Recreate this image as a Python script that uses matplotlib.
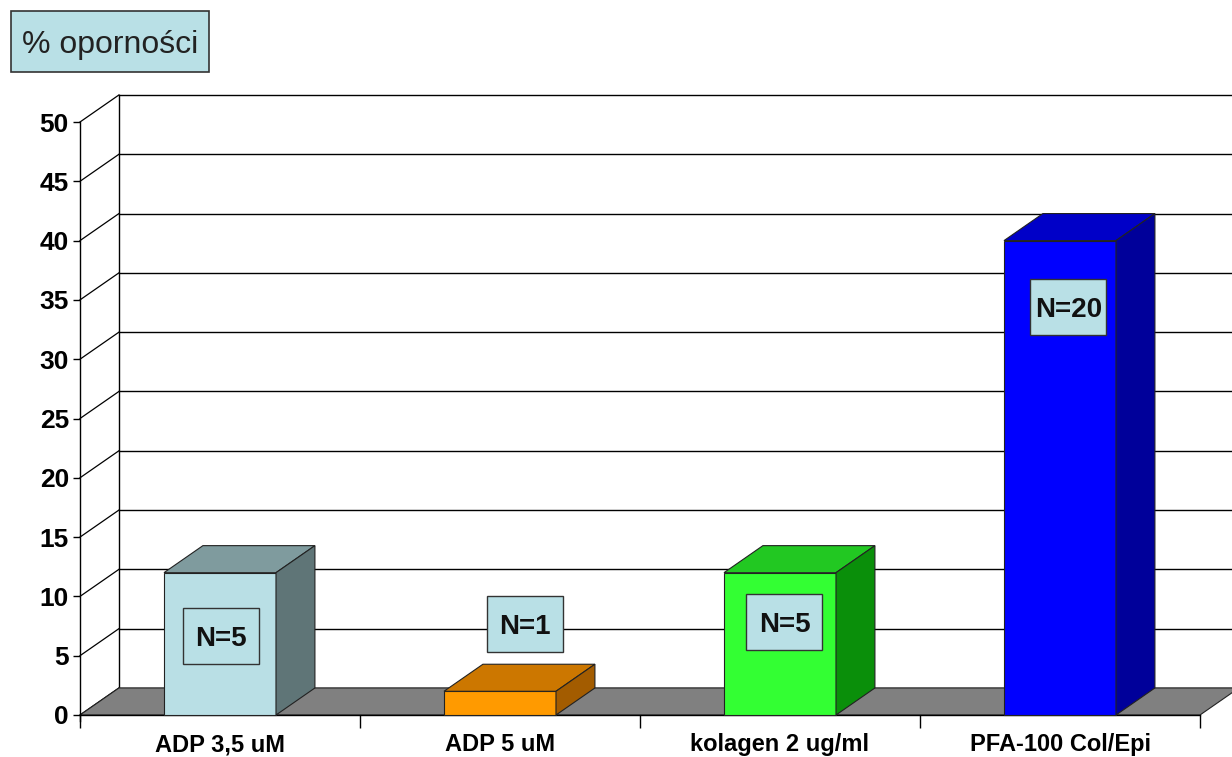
import matplotlib
matplotlib.use("Agg")
import matplotlib.pyplot as plt
from matplotlib.patches import Polygon, Rectangle
from matplotlib.transforms import ScaledTranslation

categories = ["ADP 3,5 uM", "ADP 5 uM", "kolagen 2 ug/ml", "PFA-100 Col/Epi"]
values = [12, 2, 12, 40]
n_labels = ["N=5", "N=1", "N=5", "N=20"]
y_ticks = [0, 5, 10, 15, 20, 25, 30, 35, 40, 45, 50]

# styling / layout (not data)
label_y = [6.65, 7.7, 7.85, 34.4]
label_dx = [0.005, 0.09, 0.016, 0.03]
front_colors = ["#b9dfe5", "#ff9a00", "#33ff33", "#0000ff"]
top_colors = ["#7f9b9e", "#cc7700", "#22c822", "#0000c8"]
side_colors = ["#5f7577", "#a35c00", "#0a8f0a", "#00009a"]
box_color = "#b9e0e6"
DX, DY = 0.139, 2.28  # 3D depth offset in data units
BW = 0.4              # bar width in category units
BOX_W, BOX_H = 0.76, 0.56  # label box size, inches

plt.rcParams['font.family'] = ['Liberation Sans', 'DejaVu Sans']

fig = plt.figure(figsize=(12.32, 7.57), dpi=100)
ax = fig.add_axes([80 / 1232, 42 / 757, 1120 / 1232, 593 / 757])
ax.set_xlim(0, len(categories))
ax.set_ylim(0, 50)

for s in ["top", "right"]:
    ax.spines[s].set_visible(False)
ax.spines["left"].set_linewidth(1.0)
ax.spines["bottom"].set_linewidth(1.0)
ax.spines["left"].set_bounds(-0.5, 50)

# back wall grid lines and left-wall diagonals
for v in y_ticks:
    ax.plot([DX, len(categories) + DX], [v + DY, v + DY], color="black", lw=1.0,
            zorder=1, clip_on=False)
    ax.plot([0, DX], [v, v + DY], color="black", lw=0.9, zorder=1, clip_on=False)
ax.plot([DX, DX], [DY, 50 + DY], color="black", lw=1.0, zorder=1, clip_on=False)

# floor
floor = Polygon([(0, 0), (len(categories), 0), (len(categories) + DX, DY), (DX, DY)],
                closed=True, facecolor="#808080", edgecolor="#222222", lw=0.8,
                zorder=2, clip_on=False)
ax.add_patch(floor)

# 3D bars
for i, v in enumerate(values):
    c = i + 0.5
    x0, x1 = c - BW / 2, c + BW / 2
    front = Polygon([(x0, 0), (x1, 0), (x1, v), (x0, v)], closed=True,
                    facecolor=front_colors[i], edgecolor="#222222", lw=0.8, zorder=4,
                    clip_on=False)
    top = Polygon([(x0, v), (x1, v), (x1 + DX, v + DY), (x0 + DX, v + DY)], closed=True,
                  facecolor=top_colors[i], edgecolor="#222222", lw=0.8, zorder=4,
                  clip_on=False)
    side = Polygon([(x1, 0), (x1 + DX, DY), (x1 + DX, v + DY), (x1, v)], closed=True,
                   facecolor=side_colors[i], edgecolor="#222222", lw=0.8, zorder=4,
                   clip_on=False)
    for p in (front, top, side):
        ax.add_patch(p)
    lx, ly = c + label_dx[i], label_y[i]
    trans = fig.dpi_scale_trans + ScaledTranslation(lx, ly, ax.transData)
    ax.add_patch(Rectangle((-BOX_W / 2, -BOX_H / 2), BOX_W, BOX_H, transform=trans,
                           facecolor=box_color, edgecolor="#333333", lw=1.0, zorder=9,
                           clip_on=False))
    ax.text(lx, ly, n_labels[i], ha="center", va="center_baseline",
            fontsize=20, fontweight="bold", color="#111111", zorder=10)

# axes ticks
ax.set_yticks(y_ticks)
ax.set_yticklabels([str(t) for t in y_ticks], fontsize=19, fontweight="bold")
ax.tick_params(axis="y", direction="out", length=5, width=1.0, pad=3)
ax.set_xticks(range(len(categories) + 1))
ax.set_xticklabels([""] * (len(categories) + 1))
ax.tick_params(axis="x", which="major", direction="out", length=9, width=1.0)
ax.set_xticks([i + 0.5 for i in range(len(categories))], minor=True)
ax.set_xticklabels(categories, minor=True, fontsize=17, fontweight="bold")
ax.tick_params(axis="x", which="minor", length=0, pad=13)

# title box (fixed size, figure pixels)
fig.patches.append(Rectangle((11 / 1232, 1 - 72 / 757), 198 / 1232, 61 / 757,
                             transform=fig.transFigure, facecolor=box_color,
                             edgecolor="#333333", lw=1.2, zorder=1))
fig.text(110 / 1232, 1 - 42 / 757, "% oporności", fontsize=23, ha="center",
         va="center_baseline", color="#222222", zorder=2)

fig.savefig("out.png", dpi=100)
